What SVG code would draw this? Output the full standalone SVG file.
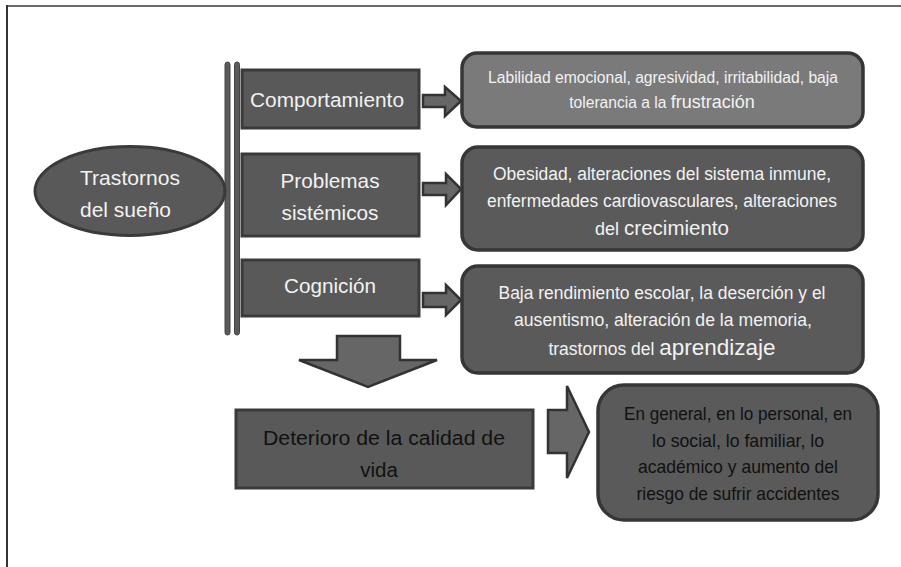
<svg xmlns="http://www.w3.org/2000/svg" width="901" height="567" viewBox="0 0 901 567">
<style>
.box{fill:#595959;stroke:#3a3a3a;stroke-width:3}
.rbox{fill:#5a5a5a;stroke:#363636;stroke-width:3.5}
.arr{fill:#666;stroke:#333;stroke-width:2.5;stroke-linejoin:miter}
text{font-family:"Liberation Sans",Arial,sans-serif;text-anchor:middle}
.w{fill:#f2f2f2}
.k{fill:#111}
</style>
<rect width="901" height="567" fill="#fff"/>
<g id="frame">
<line x1="7" y1="6" x2="901" y2="6" stroke="#6a6a6a" stroke-width="2"/>
<line x1="7" y1="5" x2="7" y2="567" stroke="#333" stroke-width="2"/>
</g>
<g id="bar">
<rect x="225" y="62" width="5" height="273" rx="2.5" fill="#5a5a5a" stroke="#444" stroke-width="1"/>
<rect x="234.5" y="62" width="5" height="273" rx="2.5" fill="#5a5a5a" stroke="#444" stroke-width="1"/>
</g>
<g id="trastornos">
<ellipse cx="130" cy="191" rx="95" ry="44.5" class="box"/>
<text class="w" x="80" y="185" font-size="21" style="text-anchor:start" textLength="100" lengthAdjust="spacingAndGlyphs">Trastornos</text>
<text class="w" x="80" y="217" font-size="21" style="text-anchor:start" textLength="91" lengthAdjust="spacingAndGlyphs">del sueño</text>
</g>
<g id="comportamiento">
<rect x="242" y="70" width="177" height="58" class="box"/>
<text class="w" x="327" y="107" font-size="20.5" textLength="154" lengthAdjust="spacingAndGlyphs">Comportamiento</text>
</g>
<g id="problemas">
<rect x="242" y="154" width="177" height="82" class="box"/>
<text class="w" x="330" y="188" font-size="21" textLength="99" lengthAdjust="spacingAndGlyphs">Problemas</text>
<text class="w" x="330" y="220" font-size="21" textLength="97" lengthAdjust="spacingAndGlyphs">sistémicos</text>
</g>
<g id="cognicion">
<rect x="242" y="260" width="177" height="56" class="box"/>
<text class="w" x="330" y="293" font-size="21" textLength="92" lengthAdjust="spacingAndGlyphs">Cognición</text>
</g>
<g id="r1">
<rect x="462" y="53" width="401" height="74" rx="15" fill="#7a7a7a" stroke="#363636" stroke-width="3.5"/>
<text class="w" x="663" y="83" font-size="15.6" textLength="350" lengthAdjust="spacingAndGlyphs">Labilidad emocional, agresividad, irritabilidad, baja</text>
<text class="w" x="662" y="108"><tspan font-size="15.6">tolerancia a la </tspan><tspan font-size="18">frustración</tspan></text>
</g>
<g id="r2">
<rect x="462" y="147" width="401" height="103" rx="16" class="rbox"/>
<text class="w" x="662" y="180" font-size="18" textLength="338" lengthAdjust="spacingAndGlyphs">Obesidad, alteraciones del sistema inmune,</text>
<text class="w" x="662" y="207" font-size="18" textLength="350" lengthAdjust="spacingAndGlyphs">enfermedades cardiovasculares, alteraciones</text>
<text class="w" x="662" y="235"><tspan font-size="18">del </tspan><tspan font-size="20.5">crecimiento</tspan></text>
</g>
<g id="r3">
<rect x="462" y="266" width="401" height="107" rx="16" class="rbox"/>
<text class="w" x="662" y="299" font-size="17.5" textLength="327" lengthAdjust="spacingAndGlyphs">Baja rendimiento escolar, la deserción y el</text>
<text class="w" x="663" y="326" font-size="17.5" textLength="298" lengthAdjust="spacingAndGlyphs">ausentismo, alteración de la memoria,</text>
<text class="w" x="662" y="355"><tspan font-size="17.5">trastornos del </tspan><tspan font-size="22.5">aprendizaje</tspan></text>
</g>
<g id="deterioro">
<rect x="236" y="410" width="297" height="78" class="box"/>
<text class="k" x="384" y="445" font-size="20.5" textLength="242" lengthAdjust="spacingAndGlyphs">Deterioro de la calidad de</text>
<text class="k" x="379" y="477" font-size="20.5">vida</text>
</g>
<g id="r4">
<rect x="598" y="385" width="280" height="135" rx="26" class="rbox"/>
<text class="k" x="738" y="420" font-size="18.5" textLength="228" lengthAdjust="spacingAndGlyphs">En general, en lo personal, en</text>
<text class="k" x="738" y="447" font-size="18.5" textLength="172" lengthAdjust="spacingAndGlyphs">lo social, lo familiar, lo</text>
<text class="k" x="738" y="473" font-size="18.5" textLength="200" lengthAdjust="spacingAndGlyphs">académico y aumento del</text>
<text class="k" x="738" y="500" font-size="18.5" textLength="203" lengthAdjust="spacingAndGlyphs">riesgo de sufrir accidentes</text>
</g>
<g id="connectors">
<path class="arr" d="M423,95 H445 V87 L461,101 L445,116 V107 H423 Z"/>
<path class="arr" d="M423,183 H446 V174 L461,189 L446,205 V195 H423 Z"/>
<path class="arr" d="M423,293 H446 V285 L461,300 L446,315 V307 H423 Z"/>
<path class="arr" d="M337,336 H400 V360 H437 L368,387 L299,360 H337 Z"/>
<path class="arr" d="M548,410 H567 V386 L589,432 L567,478 V453 H548 Z"/>
</g>
</svg>
